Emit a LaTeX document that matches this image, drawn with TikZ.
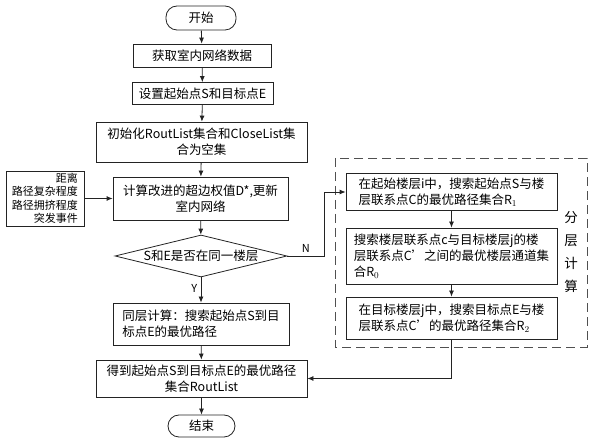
\documentclass[tikz,border=0pt]{standalone}
\usepackage{fontspec}
\setmainfont{Noto Sans CJK SC}
\usetikzlibrary{arrows.meta,positioning,shapes.geometric,calc}
\definecolor{ink}{RGB}{35,35,35}
\definecolor{frame}{RGB}{80,80,80}

\tikzset{
  box/.style={draw=ink,line width=0.8pt,inner sep=2pt,font=\fontsize{12.5}{16}\selectfont},
  term/.style={box,rounded corners=11pt},
  cond/.style={draw=ink,line width=0.8pt,diamond,aspect=4.1,inner sep=0pt,font=\fontsize{12.5}{16}\selectfont},
  flow/.style={-{Latex[length=6pt,width=5pt]},draw=ink,line width=0.8pt}
}

\begin{document}
\begin{tikzpicture}[x=1pt,y=-1pt]
        \useasboundingbox (0,0) rectangle (590,443);
        % main column
        \node[term,minimum width=70,minimum height=24] (start) at (201,18) {开始};
        \node[box,minimum width=138,minimum height=23] (load) at (202,55.5) {获取室内网络数据};
        \node[box,minimum width=141,minimum height=22] (setse) at (202.5,93.5) {设置起始点S和目标点E};
        \node[box,minimum width=211,minimum height=40,align=center] (init) at (201.5,142)
          {初始化RoutList集合和CloseList集\\合为空集};
        \node[box,minimum width=175,minimum height=43,align=center] (weight) at (200.5,198.5)
          {计算改进的超边权值D*,更新\\室内网络};
        \node[box,minimum width=78,minimum height=55,align=right,font=\fontsize{11}{13.5}\selectfont] (factor) at (45,198.5)
          {距离\\路径复杂程度\\路径拥挤程度\\突发事件};
        \node[cond,minimum width=172,minimum height=42] (same) at (201,256) {S和E是否在同一楼层};
        \node[box,minimum width=176,minimum height=42,align=left] (local) at (201,324)
          {同层计算：搜索起始点S到目\\标点E的最优路径};
        \node[box,minimum width=211,minimum height=37,align=center] (result) at (201.5,378.5)
          {得到起始点S到目标点E的最优路径\\集合RoutList};
        \node[term,minimum width=67,minimum height=22] (stop) at (201.5,426) {结束};
        % layered search
        \draw[frame,line width=0.8pt,dash pattern=on 9pt off 5pt] (335,158) rectangle (587,347);
        \node[box,minimum width=211,minimum height=37,align=left] (rone) at (451.5,192)
          {在起始楼层i中，搜索起始点S与楼\\层联系点C的最优路径集合R$_1$};
        \node[box,minimum width=211,minimum height=56,align=left] (rzero) at (451.5,256)
          {搜索楼层联系点c与目标楼层j的楼\\层联系点C’之间的最优楼层通道集\\合R$_0$};
        \node[box,minimum width=211,minimum height=42,align=left] (rtwo) at (451.5,318)
          {在目标楼层j中，搜索目标点E与楼\\层联系点C’的最优路径集合R$_2$};
        \node[align=center,inner sep=0pt,font=\fontsize{13.5}{23}\selectfont] (layer) at (571,252) {分\\层\\计\\算};
        % connectors
        \draw[flow] (start) -- (load);
        \draw[flow] (load) -- (setse);
        \draw[flow] (setse) -- (init);
        \draw[flow] (init) -- (weight);
        \draw[flow] (factor) -- (weight);
        \draw[flow] (weight) -- (same);
        \draw[flow] (same) -- node[pos=0.45,left,font=\fontsize{11}{13}\selectfont] {Y} (local);
        \draw[flow] (local) -- (result);
        \draw[flow] (result) -- (stop);
        \coordinate (bend) at ($(same.east)+(37,0)$);
        \draw[flow] (same.east) -- node[above,pos=0.5,font=\fontsize{11}{13}\selectfont] {N} (bend) |- (rone.west);
        \draw[flow] (rone) -- (rzero);
        \draw[flow] (rzero) -- (rtwo);
        \draw[flow] (rtwo.south) |- (result.east);
      \end{tikzpicture}
\end{document}
